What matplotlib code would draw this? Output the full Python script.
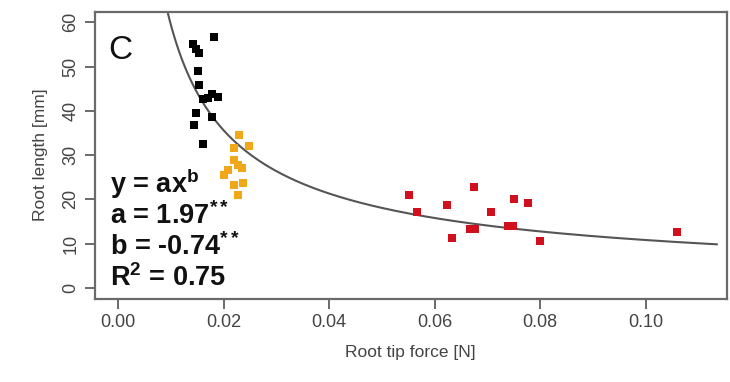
import numpy as np
import matplotlib
matplotlib.use("Agg")
import matplotlib.pyplot as plt

plt.rcParams['font.family'] = ['Liberation Sans', 'DejaVu Sans']
plt.rcParams['mathtext.fontset'] = 'custom'
plt.rcParams['mathtext.rm'] = 'Liberation Sans'
plt.rcParams['mathtext.bf'] = 'Liberation Sans:bold'
plt.rcParams['mathtext.it'] = 'Liberation Sans:italic'

# Data
black_x = [0.0181, 0.0142, 0.0148, 0.0154, 0.0152, 0.0154, 0.0162, 0.0178, 0.0190,
           0.0178, 0.0148, 0.0144, 0.0162, 0.0170]
black_y = [56.6, 55.1, 53.9, 53.0, 49.1, 45.8, 42.6, 43.8, 43.2,
           38.7, 39.6, 36.8, 32.5, 43.0]
orange_x = [0.0230, 0.0219, 0.0249, 0.0219, 0.0228, 0.0235, 0.0209, 0.0200, 0.0219,
            0.0236, 0.0228]
orange_y = [34.5, 31.5, 32.0, 28.9, 27.8, 27.0, 26.6, 25.5, 23.3, 23.6, 21.0]
red_x = [0.0552, 0.0567, 0.0624, 0.0633, 0.0675, 0.0668, 0.0677, 0.0707, 0.0751,
         0.0740, 0.0748, 0.0778, 0.0799, 0.1059]
red_y = [21.0, 17.2, 18.7, 11.3, 22.9, 13.4, 13.4, 17.2, 20.0, 14.0, 14.0, 19.1, 10.5, 12.7]

fit_a = 1.97
fit_b = -0.74
x_ticks = [0.00, 0.02, 0.04, 0.06, 0.08, 0.10]
x_ticklabels = ["0.00", "0.02", "0.04", "0.06", "0.08", "0.10"]
y_ticks = [0, 10, 20, 30, 40, 50, 60]

fig = plt.figure(figsize=(7.30, 3.82), dpi=100)
ax = fig.add_axes([94.6/730, 1-298.6/382, (727-94.6)/730, 287/382])

gray = '#6a6a6a'
xc = np.linspace(0.004, 0.1135, 400)
ax.plot(xc, fit_a * xc ** fit_b, color='#555555', lw=1.5, zorder=2)

ax.scatter(black_x, black_y, marker='s', s=30, color='#000000', lw=0, zorder=3)
ax.scatter(orange_x, orange_y, marker='s', s=30, color='#F0A818', lw=0, zorder=3)
ax.scatter(red_x, red_y, marker='s', s=30, color='#D0101C', lw=0, zorder=3)

ax.set_xlim(-0.00444, 0.11544)
ax.set_ylim(-2.4, 62.4)
ax.set_xticks(x_ticks)
ax.set_xticklabels(x_ticklabels)
ax.set_yticks(y_ticks)
ax.set_yticklabels([str(v) for v in y_ticks], rotation=90, va='center')

for s in ax.spines.values():
    s.set_color(gray)
    s.set_linewidth(1.6)
ax.tick_params(direction='out', length=7, width=1.4, color=gray,
               labelcolor='#444444', labelsize=13, pad=4)

ax.set_xlabel('Root tip force [N]', fontsize=12.5, color='#444444', labelpad=10)
ax.set_ylabel('Root length [mm]', fontsize=12.5, color='#444444', labelpad=10)

fig.text(108/730, 1-59/382, 'C', fontsize=24, color='#111111', ha='left', va='baseline')

tkw = dict(fontsize=19.5, fontweight='bold', color='#111111', ha='left', va='baseline')
fig.text(110/730, 1-193/382, r'y = ax$^{\mathbf{b}}$', **tkw)
fig.text(110/730, 1-224/382, r'a = 1.97$^{\mathbf{**}}$', **tkw)
fig.text(110/730, 1-255/382, r'b = -0.74$^{\mathbf{**}}$', **tkw)
fig.text(110/730, 1-286/382, r'R$^{\mathbf{2}}$ = 0.75', **tkw)

fig.savefig('out.png', dpi=100)
